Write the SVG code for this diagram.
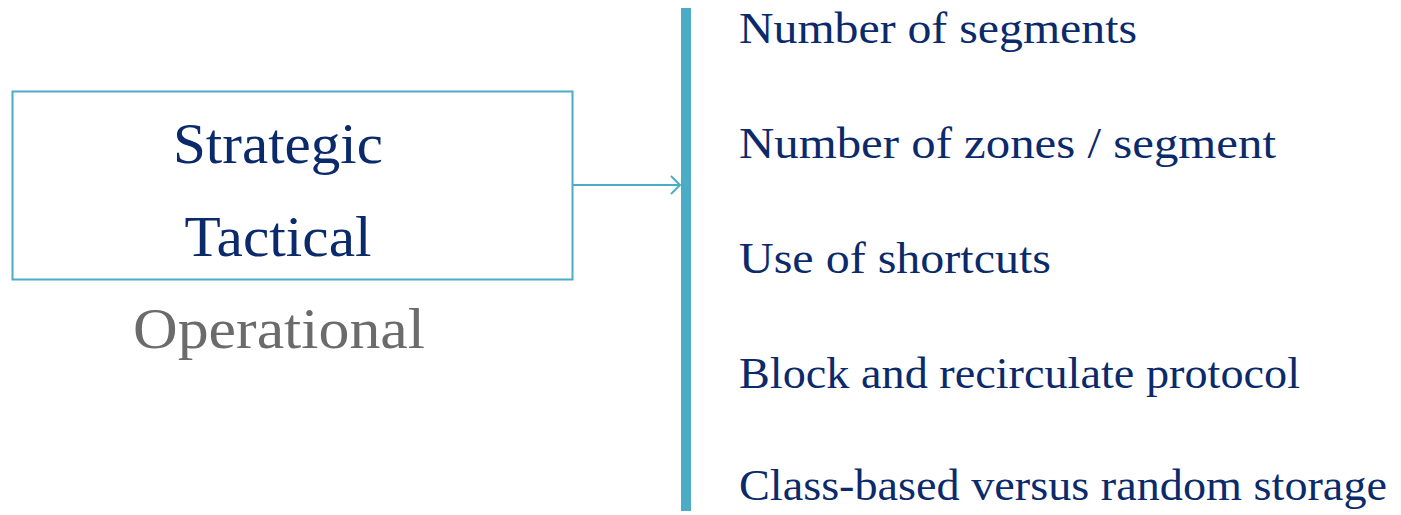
<svg xmlns="http://www.w3.org/2000/svg" width="1401" height="515" viewBox="0 0 1401 515">
<style>
.lvl{font-family:"Liberation Serif","Times New Roman",serif;font-size:58px;text-anchor:middle}
.item{font-family:"Liberation Serif","Times New Roman",serif;font-size:45px;fill:#0b2a6b}
.navy{fill:#0b2a6b}
.gray{fill:#6b6b6b}
.conn{stroke:#4bacc6;stroke-width:2;fill:none}
</style>
<rect width="1401" height="515" fill="#ffffff"/>
<g id="levels">
<rect x="12.5" y="91.5" width="560" height="188" fill="none" stroke="#4bacc6" stroke-width="2"/>
<text class="lvl navy" x="278" y="163" textLength="210" lengthAdjust="spacingAndGlyphs">Strategic</text>
<text class="lvl navy" x="278" y="256" textLength="187" lengthAdjust="spacingAndGlyphs">Tactical</text>
<text class="lvl gray" x="279" y="348" textLength="292" lengthAdjust="spacingAndGlyphs">Operational</text>
</g>
<g id="bar">
<rect x="681" y="8" width="10" height="503" fill="#4bacc6"/>
</g>
<g id="connectors">
<line class="conn" x1="573" y1="185" x2="680" y2="185"/>
<polyline class="conn" points="671,176 680,185 671,194"/>
</g>
<g id="items">
<text class="item" x="739" y="43" textLength="398" lengthAdjust="spacingAndGlyphs">Number of segments</text>
<text class="item" x="739" y="158" textLength="537" lengthAdjust="spacingAndGlyphs">Number of zones / segment</text>
<text class="item" x="739" y="273" textLength="312" lengthAdjust="spacingAndGlyphs">Use of shortcuts</text>
<text class="item" x="739" y="388" textLength="561" lengthAdjust="spacingAndGlyphs">Block and recirculate protocol</text>
<text class="item" x="739" y="500" textLength="648" lengthAdjust="spacingAndGlyphs">Class-based versus random storage</text>
</g>
</svg>
